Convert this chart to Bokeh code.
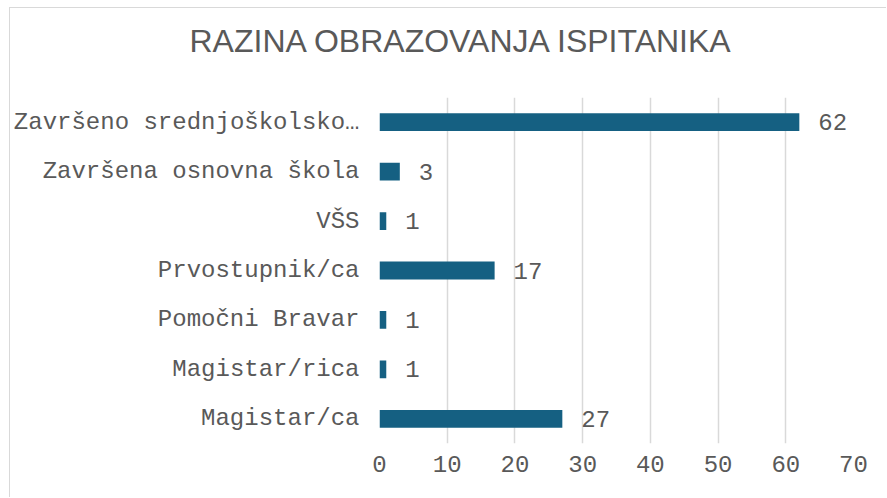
from bokeh.plotting import figure
from bokeh.models import ColumnDataSource, Range1d, FactorRange, Title, FixedTicker
from bokeh.core.properties import value
from bokeh.embed import file_html
from bokeh.resources import INLINE

categories = ["Završeno srednjoškolsko…", "Završena osnovna škola", "VŠS",
              "Prvostupnik/ca", "Pomočni Bravar", "Magistar/rica", "Magistar/ca"]
counts = [62, 3, 1, 17, 1, 1, 27]
x_ticks = [0, 10, 20, 30, 40, 50, 60, 70]
title_text = "RAZINA OBRAZOVANJA ISPITANIKA"

src = ColumnDataSource(dict(cat=categories, val=counts, lbl=[str(v) for v in counts]))

p = figure(width=877, height=490, output_backend="svg", toolbar_location=None,
           y_range=FactorRange(*categories[::-1]), x_range=Range1d(0, 70),
           min_border_left=368, min_border_right=34, min_border_top=89, min_border_bottom=55)
p.styles = {"margin-left": "9px", "margin-top": "7px",
            "border-left": "1px solid #d9d9d9", "border-top": "1px solid #d9d9d9"}
p.outline_line_color = None
p.background_fill_color = "white"
p.border_fill_color = "white"

# second (blank) line reserves space between the title and the plot area
t = Title(text=title_text + "\n ", align="left", offset=-190, standoff=2, vertical_align="top",
          text_font="Liberation Sans", text_font_size="32px",
          text_font_style="normal", text_color="#595959")
p.add_layout(t, "above")

p.hbar(y="cat", right="val", left=0, height=0.36, source=src,
       fill_color="#156082", line_color=None)
p.text(x="val", y="cat", text="lbl", source=src, x_offset=19,
       text_baseline="middle", text_align="left",
       text_font=value("Liberation Mono"), text_font_size="24px", text_color="#595959")

p.xgrid.grid_line_color = "#d9d9d9"
p.xgrid.grid_line_width = 1.5
p.ygrid.grid_line_color = None
p.xaxis.ticker = FixedTicker(ticks=x_ticks)

for ax in (p.xaxis, p.yaxis):
    ax.axis_line_color = None
    ax.major_tick_line_color = None
    ax.minor_tick_line_color = None
    ax.major_tick_out = 0
    ax.major_tick_in = 0
    ax.major_label_text_font = "Liberation Mono"
    ax.major_label_text_font_size = "24px"
    ax.major_label_text_color = "#595959"
p.yaxis.major_label_standoff = 20
p.xaxis.major_label_standoff = 12

open("out.html", "w").write(file_html(p, INLINE))
